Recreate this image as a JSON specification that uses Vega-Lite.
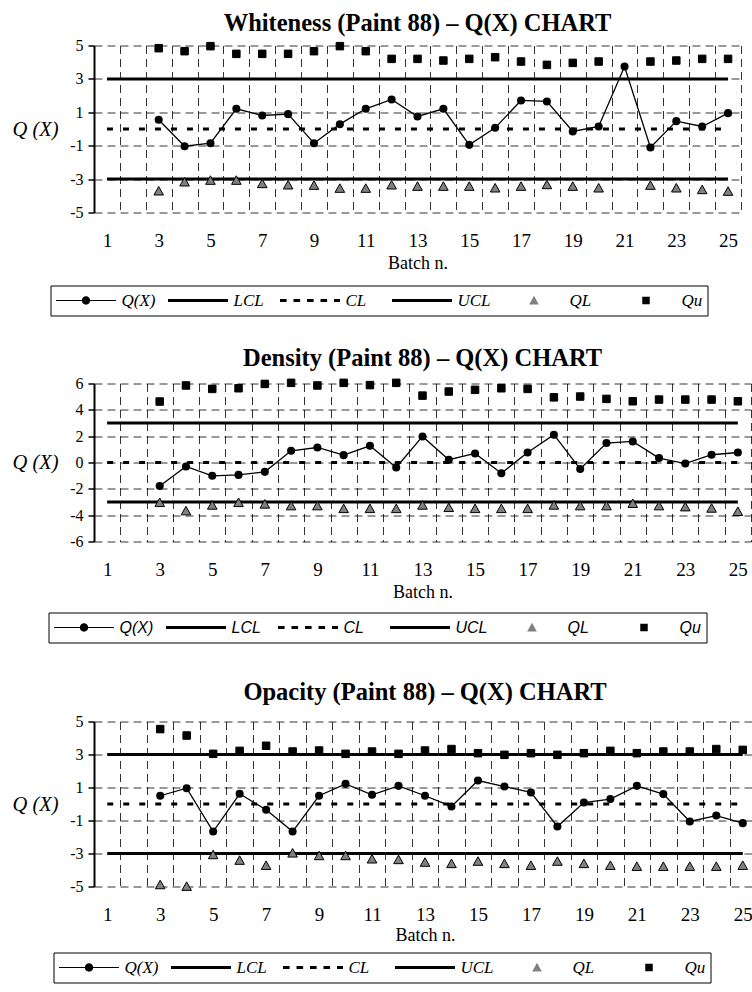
{
  "$schema": "https://vega.github.io/schema/vega-lite/v6.json",
  "padding": {"left": 12, "top": 10.5, "right": 0, "bottom": 0},
  "background": "white",
  "datasets": {
    "whiteness": [
      {"batch": 1, "Q": null, "QL": null, "Qu": null, "LCL": -3, "CL": 0, "UCL": 3},
      {"batch": 2, "Q": null, "QL": null, "Qu": null, "LCL": -3, "CL": 0, "UCL": 3},
      {"batch": 3, "Q": 0.55, "QL": -3.72, "Qu": 4.84, "LCL": -3, "CL": 0, "UCL": 3},
      {"batch": 4, "Q": -1.03, "QL": -3.18, "Qu": 4.66, "LCL": -3, "CL": 0, "UCL": 3},
      {"batch": 5, "Q": -0.85, "QL": -3.08, "Qu": 4.96, "LCL": -3, "CL": 0, "UCL": 3},
      {"batch": 6, "Q": 1.21, "QL": -3.08, "Qu": 4.5, "LCL": -3, "CL": 0, "UCL": 3},
      {"batch": 7, "Q": 0.81, "QL": -3.28, "Qu": 4.5, "LCL": -3, "CL": 0, "UCL": 3},
      {"batch": 8, "Q": 0.89, "QL": -3.36, "Qu": 4.5, "LCL": -3, "CL": 0, "UCL": 3},
      {"batch": 9, "Q": -0.85, "QL": -3.38, "Qu": 4.66, "LCL": -3, "CL": 0, "UCL": 3},
      {"batch": 10, "Q": 0.29, "QL": -3.56, "Qu": 4.96, "LCL": -3, "CL": 0, "UCL": 3},
      {"batch": 11, "Q": 1.21, "QL": -3.56, "Qu": 4.66, "LCL": -3, "CL": 0, "UCL": 3},
      {"batch": 12, "Q": 1.77, "QL": -3.36, "Qu": 4.2, "LCL": -3, "CL": 0, "UCL": 3},
      {"batch": 13, "Q": 0.75, "QL": -3.44, "Qu": 4.2, "LCL": -3, "CL": 0, "UCL": 3},
      {"batch": 14, "Q": 1.21, "QL": -3.44, "Qu": 4.1, "LCL": -3, "CL": 0, "UCL": 3},
      {"batch": 15, "Q": -0.95, "QL": -3.44, "Qu": 4.2, "LCL": -3, "CL": 0, "UCL": 3},
      {"batch": 16, "Q": 0.07, "QL": -3.54, "Qu": 4.3, "LCL": -3, "CL": 0, "UCL": 3},
      {"batch": 17, "Q": 1.71, "QL": -3.44, "Qu": 4.04, "LCL": -3, "CL": 0, "UCL": 3},
      {"batch": 18, "Q": 1.65, "QL": -3.34, "Qu": 3.84, "LCL": -3, "CL": 0, "UCL": 3},
      {"batch": 19, "Q": -0.15, "QL": -3.44, "Qu": 3.96, "LCL": -3, "CL": 0, "UCL": 3},
      {"batch": 20, "Q": 0.15, "QL": -3.54, "Qu": 4.04, "LCL": -3, "CL": 0, "UCL": 3},
      {"batch": 21, "Q": 3.74, "QL": null, "Qu": null, "LCL": -3, "CL": 0, "UCL": 3},
      {"batch": 22, "Q": -1.11, "QL": -3.38, "Qu": 4.04, "LCL": -3, "CL": 0, "UCL": 3},
      {"batch": 23, "Q": 0.47, "QL": -3.54, "Qu": 4.1, "LCL": -3, "CL": 0, "UCL": 3},
      {"batch": 24, "Q": 0.15, "QL": -3.64, "Qu": 4.2, "LCL": -3, "CL": 0, "UCL": 3},
      {"batch": 25, "Q": 0.95, "QL": -3.74, "Qu": 4.2, "LCL": -3, "CL": 0, "UCL": 3}
    ],
    "density": [
      {"batch": 1, "Q": null, "QL": null, "Qu": null, "LCL": -3, "CL": 0, "UCL": 3},
      {"batch": 2, "Q": null, "QL": null, "Qu": null, "LCL": -3, "CL": 0, "UCL": 3},
      {"batch": 3, "Q": -1.78, "QL": -3.05, "Qu": 4.63, "LCL": -3, "CL": 0, "UCL": 3},
      {"batch": 4, "Q": -0.3, "QL": -3.68, "Qu": 5.85, "LCL": -3, "CL": 0, "UCL": 3},
      {"batch": 5, "Q": -1.01, "QL": -3.25, "Qu": 5.59, "LCL": -3, "CL": 0, "UCL": 3},
      {"batch": 6, "Q": -0.94, "QL": -3.05, "Qu": 5.64, "LCL": -3, "CL": 0, "UCL": 3},
      {"batch": 7, "Q": -0.71, "QL": -3.17, "Qu": 5.97, "LCL": -3, "CL": 0, "UCL": 3},
      {"batch": 8, "Q": 0.89, "QL": -3.3, "Qu": 6.05, "LCL": -3, "CL": 0, "UCL": 3},
      {"batch": 9, "Q": 1.14, "QL": -3.3, "Qu": 5.85, "LCL": -3, "CL": 0, "UCL": 3},
      {"batch": 10, "Q": 0.56, "QL": -3.51, "Qu": 6.05, "LCL": -3, "CL": 0, "UCL": 3},
      {"batch": 11, "Q": 1.27, "QL": -3.51, "Qu": 5.88, "LCL": -3, "CL": 0, "UCL": 3},
      {"batch": 12, "Q": -0.38, "QL": -3.51, "Qu": 6.05, "LCL": -3, "CL": 0, "UCL": 3},
      {"batch": 13, "Q": 1.98, "QL": -3.25, "Qu": 5.08, "LCL": -3, "CL": 0, "UCL": 3},
      {"batch": 14, "Q": 0.21, "QL": -3.43, "Qu": 5.39, "LCL": -3, "CL": 0, "UCL": 3},
      {"batch": 15, "Q": 0.69, "QL": -3.51, "Qu": 5.52, "LCL": -3, "CL": 0, "UCL": 3},
      {"batch": 16, "Q": -0.81, "QL": -3.51, "Qu": 5.64, "LCL": -3, "CL": 0, "UCL": 3},
      {"batch": 17, "Q": 0.76, "QL": -3.51, "Qu": 5.59, "LCL": -3, "CL": 0, "UCL": 3},
      {"batch": 18, "Q": 2.11, "QL": -3.25, "Qu": 4.95, "LCL": -3, "CL": 0, "UCL": 3},
      {"batch": 19, "Q": -0.5, "QL": -3.3, "Qu": 5.01, "LCL": -3, "CL": 0, "UCL": 3},
      {"batch": 20, "Q": 1.48, "QL": -3.3, "Qu": 4.83, "LCL": -3, "CL": 0, "UCL": 3},
      {"batch": 21, "Q": 1.6, "QL": -3.12, "Qu": 4.65, "LCL": -3, "CL": 0, "UCL": 3},
      {"batch": 22, "Q": 0.34, "QL": -3.3, "Qu": 4.78, "LCL": -3, "CL": 0, "UCL": 3},
      {"batch": 23, "Q": -0.08, "QL": -3.38, "Qu": 4.78, "LCL": -3, "CL": 0, "UCL": 3},
      {"batch": 24, "Q": 0.59, "QL": -3.48, "Qu": 4.78, "LCL": -3, "CL": 0, "UCL": 3},
      {"batch": 25, "Q": 0.76, "QL": -3.73, "Qu": 4.65, "LCL": -3, "CL": 0, "UCL": 3}
    ],
    "opacity": [
      {"batch": 1, "Q": null, "QL": null, "Qu": null, "LCL": -3, "CL": 0, "UCL": 3},
      {"batch": 2, "Q": null, "QL": null, "Qu": null, "LCL": -3, "CL": 0, "UCL": 3},
      {"batch": 3, "Q": 0.5, "QL": -4.9, "Qu": 4.54, "LCL": -3, "CL": 0, "UCL": 3},
      {"batch": 4, "Q": 0.96, "QL": -5.0, "Qu": 4.15, "LCL": -3, "CL": 0, "UCL": 3},
      {"batch": 5, "Q": -1.67, "QL": -3.08, "Qu": 3.04, "LCL": -3, "CL": 0, "UCL": 3},
      {"batch": 6, "Q": 0.62, "QL": -3.42, "Qu": 3.22, "LCL": -3, "CL": 0, "UCL": 3},
      {"batch": 7, "Q": -0.35, "QL": -3.73, "Qu": 3.53, "LCL": -3, "CL": 0, "UCL": 3},
      {"batch": 8, "Q": -1.67, "QL": -2.98, "Qu": 3.18, "LCL": -3, "CL": 0, "UCL": 3},
      {"batch": 9, "Q": 0.5, "QL": -3.14, "Qu": 3.24, "LCL": -3, "CL": 0, "UCL": 3},
      {"batch": 10, "Q": 1.22, "QL": -3.14, "Qu": 3.04, "LCL": -3, "CL": 0, "UCL": 3},
      {"batch": 11, "Q": 0.56, "QL": -3.34, "Qu": 3.18, "LCL": -3, "CL": 0, "UCL": 3},
      {"batch": 12, "Q": 1.1, "QL": -3.38, "Qu": 3.04, "LCL": -3, "CL": 0, "UCL": 3},
      {"batch": 13, "Q": 0.5, "QL": -3.54, "Qu": 3.24, "LCL": -3, "CL": 0, "UCL": 3},
      {"batch": 14, "Q": -0.15, "QL": -3.62, "Qu": 3.33, "LCL": -3, "CL": 0, "UCL": 3},
      {"batch": 15, "Q": 1.42, "QL": -3.48, "Qu": 3.08, "LCL": -3, "CL": 0, "UCL": 3},
      {"batch": 16, "Q": 1.06, "QL": -3.62, "Qu": 2.98, "LCL": -3, "CL": 0, "UCL": 3},
      {"batch": 17, "Q": 0.7, "QL": -3.73, "Qu": 3.08, "LCL": -3, "CL": 0, "UCL": 3},
      {"batch": 18, "Q": -1.36, "QL": -3.48, "Qu": 2.98, "LCL": -3, "CL": 0, "UCL": 3},
      {"batch": 19, "Q": 0.09, "QL": -3.62, "Qu": 3.08, "LCL": -3, "CL": 0, "UCL": 3},
      {"batch": 20, "Q": 0.3, "QL": -3.73, "Qu": 3.22, "LCL": -3, "CL": 0, "UCL": 3},
      {"batch": 21, "Q": 1.1, "QL": -3.79, "Qu": 3.08, "LCL": -3, "CL": 0, "UCL": 3},
      {"batch": 22, "Q": 0.6, "QL": -3.79, "Qu": 3.18, "LCL": -3, "CL": 0, "UCL": 3},
      {"batch": 23, "Q": -1.06, "QL": -3.79, "Qu": 3.18, "LCL": -3, "CL": 0, "UCL": 3},
      {"batch": 24, "Q": -0.7, "QL": -3.79, "Qu": 3.33, "LCL": -3, "CL": 0, "UCL": 3},
      {"batch": 25, "Q": -1.16, "QL": -3.73, "Qu": 3.28, "LCL": -3, "CL": 0, "UCL": 3}
    ]
  },
  "columns": 1,
  "align": "none",
  "spacing": 29,
  "resolve": {"scale": {"shape": "independent", "fill": "independent"}, "legend": {"shape": "independent", "fill": "independent"}},
  "concat": [
    {
      "title": {"text": "Whiteness (Paint 88) – Q(X) CHART", "frame": "group", "anchor": "middle", "fontSize": 24.5, "fontWeight": "bold", "font": "Liberation Serif", "offset": 1.5, "color": "black"},
      "width": 647,
      "height": 167,
      "data": {"name": "whiteness"},
      "encoding": {
        "x": {"field": "batch", "type": "ordinal", "scale": {"type": "band", "paddingInner": 0, "paddingOuter": 0},
          "axis": {"title": "Batch n.", "labelExpr": "datum.value % 2 == 1 ? datum.label : ''", "labelAngle": 0, "tickBand": "extent", "ticks": false, "domain": false, "grid": true, "gridColor": "black", "gridDash": [8, 5], "gridWidth": 0.8, "labelFontSize": 19, "labelPadding": 19, "labelColor": "black", "labelFont": "Liberation Serif", "titleFont": "Liberation Serif", "titleFontSize": 18, "titleFontWeight": "normal", "titleColor": "black", "titlePadding": 4}}
      },
      "layer": [
        {"mark": {"type": "line", "color": "black", "strokeWidth": 3},
          "encoding": {"y": {"field": "LCL", "type": "quantitative", "scale": {"domain": [-5, 5], "nice": false, "zero": false},
            "axis": {"values": [-5, -3, -1, 1, 3, 5], "tickCount": 20, "labelExpr": "toString(datum.value)", "labelOverlap": false, "title": "Q (X)", "titleAngle": 0, "titleAlign": "right", "titleBaseline": "middle", "titleFont": "Liberation Serif", "titleFontStyle": "italic", "titleFontWeight": "normal", "titleFontSize": 20.5, "titlePadding": 11.5, "titleColor": "black", "grid": true, "gridColor": "black", "gridDash": [8, 5], "gridWidth": 0.8, "domainColor": "black", "domainWidth": 2, "tickColor": "black", "tickSize": 6, "tickWidth": 1.5, "labelFont": "Liberation Serif", "labelFontSize": 16, "labelPadding": 5, "labelColor": "black"}}}},
        {"mark": {"type": "line", "color": "black", "strokeWidth": 3},
          "encoding": {"y": {"field": "UCL", "type": "quantitative"}}},
        {"mark": {"type": "line", "color": "black", "strokeWidth": 3, "strokeDash": [6, 10]},
          "encoding": {"y": {"field": "CL", "type": "quantitative"}}},
        {"mark": {"type": "line", "color": "black", "strokeWidth": 1.3, "point": {"filled": true, "color": "black", "size": 65}},
          "encoding": {"y": {"field": "Q", "type": "quantitative"}}},
        {"transform": [{"fold": ["QL", "Qu"], "as": ["series", "value"]}],
          "mark": {"type": "point", "filled": true, "size": 3600, "stroke": "black", "strokeWidth": 1, "opacity": 1},
          "encoding": {
            "y": {"field": "value", "type": "quantitative"},
            "shape": {"field": "series", "type": "nominal",
              "scale": {"domain": ["Q(X)", "LCL", "CL", "UCL", "QL", "Qu"], "range": ["M-1,-0.02H1V0.02H-1ZM-0.14,0A0.14,0.14,0,1,1,0.14,0A0.14,0.14,0,1,1,-0.14,0Z", "M-1,-0.05H1V0.05H-1Z", "M-1,-0.05H-0.78V0.05H-1ZM-0.55,-0.05H-0.33V0.05H-0.55ZM-0.1,-0.05H0.12V0.05H-0.1ZM0.35,-0.05H0.57V0.05H0.35ZM0.8,-0.05H1V0.05H0.8Z", "M-1,-0.05H1V0.05H-1Z", "M0,-0.155L0.16,0.13L-0.16,0.13Z", "M-0.125,-0.125H0.125V0.125H-0.125Z"]},
              "legend": {"orient": "none", "legendX": -43.5, "legendY": 240, "direction": "horizontal", "title": null, "symbolSize": 3600, "clipHeight": 20, "symbolStrokeColor": "black", "symbolStrokeWidth": 1, "labelFont": "Liberation Serif", "labelFontStyle": "italic", "labelFontSize": 17, "labelColor": "black", "labelOffset": 5, "columnPadding": 12, "gridAlign": "all", "strokeColor": "black", "padding": 5, "fillColor": "white"}},
            "fill": {"field": "series", "type": "nominal",
              "scale": {"domain": ["Q(X)", "LCL", "CL", "UCL", "QL", "Qu"], "range": ["black", "black", "black", "black", "#808080", "black"]},
              "legend": {"orient": "none", "legendX": -43.5, "legendY": 240, "direction": "horizontal", "title": null, "symbolSize": 3600, "clipHeight": 20, "symbolStrokeColor": "black", "symbolStrokeWidth": 1, "labelFont": "Liberation Serif", "labelFontStyle": "italic", "labelFontSize": 17, "labelColor": "black", "labelOffset": 5, "columnPadding": 12, "gridAlign": "all", "strokeColor": "black", "padding": 5, "fillColor": "white"}}
          }}
      ]
    },
    {
      "columns": 1,
      "align": "none",
      "spacing": 36,
      "resolve": {"scale": {"shape": "independent", "fill": "independent"}, "legend": {"shape": "independent", "fill": "independent"}},
      "concat": [
        {
          "title": {"text": "Density (Paint 88) – Q(X) CHART", "frame": "group", "anchor": "middle", "fontSize": 24.5, "fontWeight": "bold", "font": "Liberation Serif", "offset": 4.5, "color": "black"},
          "width": 657,
          "height": 158,
          "data": {"name": "density"},
          "encoding": {
            "x": {"field": "batch", "type": "ordinal", "scale": {"type": "band", "paddingInner": 0, "paddingOuter": 0},
              "axis": {"title": "Batch n.", "labelExpr": "datum.value % 2 == 1 ? datum.label : ''", "labelAngle": 0, "tickBand": "extent", "ticks": false, "domain": false, "grid": true, "gridColor": "black", "gridDash": [8, 5], "gridWidth": 0.8, "labelFontSize": 19, "labelPadding": 19, "labelColor": "black", "labelFont": "Liberation Serif", "titleFont": "Liberation Serif", "titleFontSize": 18, "titleFontWeight": "normal", "titleColor": "black", "titlePadding": 4}}
          },
          "layer": [
            {"mark": {"type": "line", "color": "black", "strokeWidth": 3},
              "encoding": {"y": {"field": "LCL", "type": "quantitative", "scale": {"domain": [-6, 6], "nice": false, "zero": false},
                "axis": {"values": [-6, -4, -2, 0, 2, 4, 6], "tickCount": 20, "labelExpr": "toString(datum.value)", "labelOverlap": false, "title": "Q (X)", "titleAngle": 0, "titleAlign": "right", "titleBaseline": "middle", "titleFont": "Liberation Serif", "titleFontStyle": "italic", "titleFontWeight": "normal", "titleFontSize": 20.5, "titlePadding": 11.5, "titleColor": "black", "grid": true, "gridColor": "black", "gridDash": [8, 5], "gridWidth": 0.8, "domainColor": "black", "domainWidth": 2, "tickColor": "black", "tickSize": 6, "tickWidth": 1.5, "labelFont": "Liberation Serif", "labelFontSize": 16, "labelPadding": 5, "labelColor": "black"}}}},
            {"mark": {"type": "line", "color": "black", "strokeWidth": 3},
              "encoding": {"y": {"field": "UCL", "type": "quantitative"}}},
            {"mark": {"type": "line", "color": "black", "strokeWidth": 3, "strokeDash": [6, 10]},
              "encoding": {"y": {"field": "CL", "type": "quantitative"}}},
            {"mark": {"type": "line", "color": "black", "strokeWidth": 1.3, "point": {"filled": true, "color": "black", "size": 65}},
              "encoding": {"y": {"field": "Q", "type": "quantitative"}}},
            {"transform": [{"fold": ["QL", "Qu"], "as": ["series", "value"]}],
              "mark": {"type": "point", "filled": true, "size": 3600, "stroke": "black", "strokeWidth": 1, "opacity": 1},
              "encoding": {
                "y": {"field": "value", "type": "quantitative"},
                "shape": {"field": "series", "type": "nominal",
                  "scale": {"domain": ["Q(X)", "LCL", "CL", "UCL", "QL", "Qu"], "range": ["M-1,-0.02H1V0.02H-1ZM-0.14,0A0.14,0.14,0,1,1,0.14,0A0.14,0.14,0,1,1,-0.14,0Z", "M-1,-0.05H1V0.05H-1Z", "M-1,-0.05H-0.78V0.05H-1ZM-0.55,-0.05H-0.33V0.05H-0.55ZM-0.1,-0.05H0.12V0.05H-0.1ZM0.35,-0.05H0.57V0.05H0.35ZM0.8,-0.05H1V0.05H0.8Z", "M-1,-0.05H1V0.05H-1Z", "M0,-0.155L0.16,0.13L-0.16,0.13Z", "M-0.125,-0.125H0.125V0.125H-0.125Z"]},
                  "legend": {"orient": "none", "legendX": -45.5, "legendY": 229, "direction": "horizontal", "title": null, "symbolSize": 3600, "clipHeight": 20, "symbolStrokeColor": "black", "symbolStrokeWidth": 1, "labelFont": "Liberation Sans", "labelFontStyle": "italic", "labelFontSize": 16, "labelColor": "black", "labelOffset": 5, "columnPadding": 12, "gridAlign": "all", "strokeColor": "black", "padding": 5, "fillColor": "white"}},
                "fill": {"field": "series", "type": "nominal",
                  "scale": {"domain": ["Q(X)", "LCL", "CL", "UCL", "QL", "Qu"], "range": ["black", "black", "black", "black", "#808080", "black"]},
                  "legend": {"orient": "none", "legendX": -45.5, "legendY": 229, "direction": "horizontal", "title": null, "symbolSize": 3600, "clipHeight": 20, "symbolStrokeColor": "black", "symbolStrokeWidth": 1, "labelFont": "Liberation Sans", "labelFontStyle": "italic", "labelFontSize": 16, "labelColor": "black", "labelOffset": 5, "columnPadding": 12, "gridAlign": "all", "strokeColor": "black", "padding": 5, "fillColor": "white"}}
              }}
          ]
        },
        {
          "title": {"text": "Opacity (Paint 88) – Q(X) CHART", "frame": "group", "anchor": "middle", "fontSize": 24.5, "fontWeight": "bold", "font": "Liberation Serif", "offset": 8.5, "color": "black"},
          "width": 662,
          "height": 165,
          "data": {"name": "opacity"},
          "encoding": {
            "x": {"field": "batch", "type": "ordinal", "scale": {"type": "band", "paddingInner": 0, "paddingOuter": 0},
              "axis": {"title": "Batch n.", "labelExpr": "datum.value % 2 == 1 ? datum.label : ''", "labelAngle": 0, "tickBand": "extent", "ticks": false, "domain": false, "grid": true, "gridColor": "black", "gridDash": [8, 5], "gridWidth": 0.8, "labelFontSize": 19, "labelPadding": 19, "labelColor": "black", "labelFont": "Liberation Serif", "titleFont": "Liberation Serif", "titleFontSize": 18, "titleFontWeight": "normal", "titleColor": "black", "titlePadding": 2}}
          },
          "layer": [
            {"mark": {"type": "line", "color": "black", "strokeWidth": 3},
              "encoding": {"y": {"field": "LCL", "type": "quantitative", "scale": {"domain": [-5, 5], "nice": false, "zero": false},
                "axis": {"values": [-5, -3, -1, 1, 3, 5], "tickCount": 20, "labelExpr": "toString(datum.value)", "labelOverlap": false, "title": "Q (X)", "titleAngle": 0, "titleAlign": "right", "titleBaseline": "middle", "titleFont": "Liberation Serif", "titleFontStyle": "italic", "titleFontWeight": "normal", "titleFontSize": 20.5, "titlePadding": 11.5, "titleColor": "black", "grid": true, "gridColor": "black", "gridDash": [8, 5], "gridWidth": 0.8, "domainColor": "black", "domainWidth": 2, "tickColor": "black", "tickSize": 6, "tickWidth": 1.5, "labelFont": "Liberation Serif", "labelFontSize": 16, "labelPadding": 5, "labelColor": "black"}}}},
            {"mark": {"type": "line", "color": "black", "strokeWidth": 3},
              "encoding": {"y": {"field": "UCL", "type": "quantitative"}}},
            {"mark": {"type": "line", "color": "black", "strokeWidth": 3, "strokeDash": [6, 10]},
              "encoding": {"y": {"field": "CL", "type": "quantitative"}}},
            {"mark": {"type": "line", "color": "black", "strokeWidth": 1.3, "point": {"filled": true, "color": "black", "size": 65}},
              "encoding": {"y": {"field": "Q", "type": "quantitative"}}},
            {"transform": [{"fold": ["QL", "Qu"], "as": ["series", "value"]}],
              "mark": {"type": "point", "filled": true, "size": 3600, "stroke": "black", "strokeWidth": 1, "opacity": 1},
              "encoding": {
                "y": {"field": "value", "type": "quantitative"},
                "shape": {"field": "series", "type": "nominal",
                  "scale": {"domain": ["Q(X)", "LCL", "CL", "UCL", "QL", "Qu"], "range": ["M-1,-0.02H1V0.02H-1ZM-0.14,0A0.14,0.14,0,1,1,0.14,0A0.14,0.14,0,1,1,-0.14,0Z", "M-1,-0.05H1V0.05H-1Z", "M-1,-0.05H-0.78V0.05H-1ZM-0.55,-0.05H-0.33V0.05H-0.55ZM-0.1,-0.05H0.12V0.05H-0.1ZM0.35,-0.05H0.57V0.05H0.35ZM0.8,-0.05H1V0.05H0.8Z", "M-1,-0.05H1V0.05H-1Z", "M0,-0.155L0.16,0.13L-0.16,0.13Z", "M-0.125,-0.125H0.125V0.125H-0.125Z"]},
                  "legend": {"orient": "none", "legendX": -40.5, "legendY": 231, "direction": "horizontal", "title": null, "symbolSize": 3600, "clipHeight": 20, "symbolStrokeColor": "black", "symbolStrokeWidth": 1, "labelFont": "Liberation Serif", "labelFontStyle": "italic", "labelFontSize": 17, "labelColor": "black", "labelOffset": 5, "columnPadding": 12, "gridAlign": "all", "strokeColor": "black", "padding": 5, "fillColor": "white"}},
                "fill": {"field": "series", "type": "nominal",
                  "scale": {"domain": ["Q(X)", "LCL", "CL", "UCL", "QL", "Qu"], "range": ["black", "black", "black", "black", "#808080", "black"]},
                  "legend": {"orient": "none", "legendX": -40.5, "legendY": 231, "direction": "horizontal", "title": null, "symbolSize": 3600, "clipHeight": 20, "symbolStrokeColor": "black", "symbolStrokeWidth": 1, "labelFont": "Liberation Serif", "labelFontStyle": "italic", "labelFontSize": 17, "labelColor": "black", "labelOffset": 5, "columnPadding": 12, "gridAlign": "all", "strokeColor": "black", "padding": 5, "fillColor": "white"}}
              }}
          ]
        }
      ]
    }
  ],
  "config": {"view": {"stroke": null}, "font": "Liberation Serif"}
}
